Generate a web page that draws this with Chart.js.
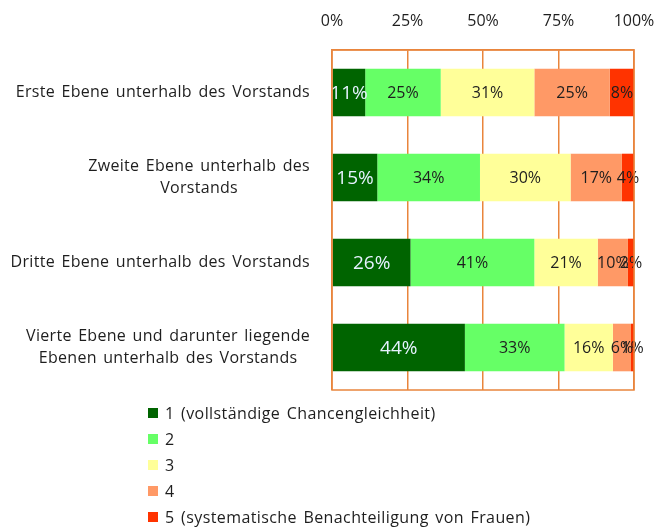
<!DOCTYPE html>
<html>
<head>
<meta charset="utf-8">
<script src="https://cdn.jsdelivr.net/npm/chart.js@4"></script>
<style>
  body { margin: 0; background: #fff; }
  #wrap { position: relative; width: 656px; height: 528px; }
  #legend { position: absolute; left: 148px; top: 400px; font: 16px "Open Sans", sans-serif; color: #1e1e1e; letter-spacing: 0.4px; word-spacing: 2px; }
  #legend div { height: 26px; line-height: 26px; display: flex; align-items: center; white-space: pre; }
  #legend span.box { display: inline-block; width: 10px; height: 10px; margin-right: 7px; }
</style>
</head>
<body>
<div id="wrap">
  <canvas id="myChart" width="656" height="528"></canvas>
  <div id="legend"></div>
</div>
<script>
// data block
const categories = [
  ["Erste Ebene unterhalb des Vorstands"],
  ["Zweite Ebene unterhalb des", "Vorstands"],
  ["Dritte Ebene unterhalb des Vorstands"],
  ["Vierte Ebene und darunter liegende", "Ebenen unterhalb des Vorstands"],
];
const seriesNames = [
  "1 (vollständige Chancengleichheit)",
  "2",
  "3",
  "4",
  "5 (systematische Benachteiligung von Frauen)",
];
const s1 = [11, 15, 26, 44];
const s2 = [25, 34, 41, 33];
const s3 = [31, 30, 21, 16];
const s4 = [25, 17, 10, 6];
const s5 = [8, 4, 2, 1];
const tickValues = [0, 25, 50, 75, 100];
const colors = ["#006400", "#66FF66", "#FFFF99", "#FF9966", "#FF3300"];

const allSeries = [s1, s2, s3, s4, s5];
const orange = "#E9853C";

const data = {
  labels: categories.map((c) => c.join(" ")),
  datasets: allSeries.map((vals, i) => ({
    label: seriesNames[i],
    data: vals,
    backgroundColor: colors[i],
    borderWidth: 0,
    categoryPercentage: 1,
    barPercentage: 0.56,
  })),
};

// value labels inside the bars
const barLabels = {
  id: "barLabels",
  afterDatasetsDraw(chart) {
    const ctx = chart.ctx;
    ctx.save();
    ctx.textAlign = "center";
    ctx.textBaseline = "middle";
    chart.data.datasets.forEach((ds, di) => {
      const meta = chart.getDatasetMeta(di);
      meta.data.forEach((bar, i) => {
        const cx = (bar.x + bar.base) / 2;
        if (di === 0) {
          ctx.fillStyle = "#E6F2FF";
          ctx.font = '19px "Open Sans", sans-serif';
        } else {
          ctx.fillStyle = "#1e1e1e";
          ctx.font = '16px "Open Sans", sans-serif';
        }
        ctx.fillText(ds.data[i] + "%", cx, bar.y + 1);
      });
    });
    ctx.restore();
  },
};

// category labels, lines centred, block right-aligned; plus the frame
const catLabels = {
  id: "catLabels",
  afterDraw(chart) {
    const ctx = chart.ctx;
    const y = chart.scales.y;
    const area = chart.chartArea;
    ctx.save();
    ctx.strokeStyle = orange;
    ctx.lineWidth = 1.5;
    ctx.strokeRect(area.left, area.top, area.right - area.left, area.bottom - area.top);
    ctx.font = '16px "Open Sans", sans-serif';
    ctx.letterSpacing = "0.3px";
    ctx.wordSpacing = "2px";
    ctx.fillStyle = "#1e1e1e";
    ctx.textAlign = "center";
    ctx.textBaseline = "middle";
    const lh = 22;
    categories.forEach((lines, i) => {
      const cy = y.getPixelForValue(i);
      const w = Math.max(...lines.map((l) => ctx.measureText(l).width));
      const cx = area.left - 22 - w / 2;
      lines.forEach((l, k) => {
        ctx.fillText(l, cx, cy + (k - (lines.length - 1) / 2) * lh);
      });
    });
    ctx.restore();
  },
};

// config block
const config = {
  type: "bar",
  data: data,
  options: {
    indexAxis: "y",
    responsive: false,
    animation: false,
    layout: { padding: { left: 332, right: 0, top: 2, bottom: 138 } },
    plugins: { legend: { display: false }, tooltip: { enabled: false } },
    scales: {
      x: {
        stacked: true,
        position: "top",
        min: 0,
        max: 100,
        afterBuildTicks: (scale) => {
          scale.ticks = tickValues.map((v) => ({ value: v }));
        },
        afterFit: (scale) => {
          scale.height = 48;
          scale.paddingRight = 22;
        },
        ticks: {
          callback: (v) => v + "%",
          color: "#1e1e1e",
          font: { family: "Open Sans", size: 16 },
          padding: 19,
          maxRotation: 0,
        },
        grid: { color: orange, lineWidth: 1.5, drawTicks: false },
        border: { color: orange, width: 1.5 },
      },
      y: {
        stacked: true,
        afterFit: (scale) => {
          scale.width = 0;
        },
        ticks: { display: false },
        grid: { display: false },
        border: { display: false },
      },
    },
  },
  plugins: [barLabels, catLabels],
};

// render init block
const myChart = new Chart(document.getElementById("myChart"), config);

// legend, one entry per line
const legend = document.getElementById("legend");
seriesNames.forEach((name, i) => {
  const row = document.createElement("div");
  const box = document.createElement("span");
  box.className = "box";
  box.style.background = colors[i];
  row.appendChild(box);
  row.appendChild(document.createTextNode(name));
  legend.appendChild(row);
});
</script>
</body>
</html>
